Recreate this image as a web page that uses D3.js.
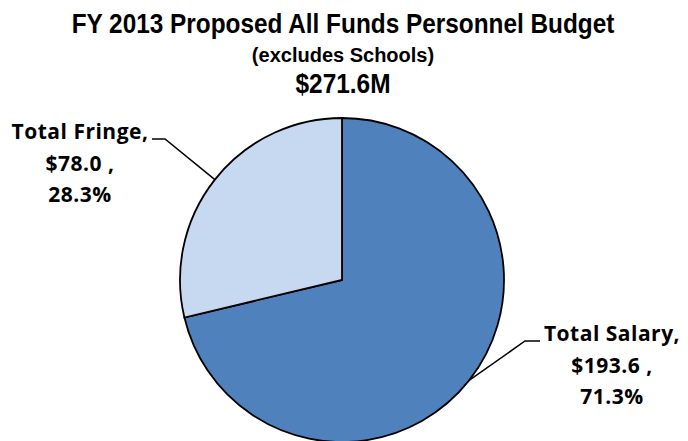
<!DOCTYPE html>
<html>
<head>
<meta charset="utf-8">
<script src="https://cdn.jsdelivr.net/npm/d3@7"></script>
<style>
  html, body { margin: 0; padding: 0; background: #fff; }
  svg { display: block; }
  .title { font-family: "Liberation Sans Narrow", "Arial Narrow", "Liberation Sans", Arial, sans-serif; font-weight: bold; fill: #000; }
  .lbl { font-family: "Open Sans", "Noto Sans", sans-serif; font-weight: bold; fill: #000; letter-spacing: 0.5px; }
</style>
</head>
<body>
<svg id="chart" width="688" height="441"></svg>
<script>
// Personnel budget split, $M
const categories = ["Total Salary", "Total Fringe"];
const amounts = [193.6, 78.0];
const percents = [71.3, 28.3];
const titleLines = ["FY 2013 Proposed All Funds Personnel Budget", "(excludes Schools)", "$271.6M"];
const colors = ["#4F81BD", "#C6D9F1"];

const W = 688, H = 441;
const cx = 342, cy = 280, R = 162;

const svg = d3.select("#chart");

// Titles, horizontally condensed to a fixed run width
const titleSpec = [
  { y: 33, size: 28, len: 543 },
  { y: 62, size: 20, len: 195 },
  { y: 93, size: 28, len: 95 }
];
svg.selectAll("text.title").data(titleLines).join("text")
  .attr("class", "title")
  .attr("x", 0)
  .attr("y", 0)
  .attr("font-size", (d, i) => titleSpec[i].size)
  .attr("text-anchor", "middle")
  .text(d => d)
  .each(function (d, i) {
    const w = this.getComputedTextLength();
    const k = Math.min(1, titleSpec[i].len / w);
    d3.select(this).attr("transform", `translate(343,${titleSpec[i].y}) scale(${k},1)`);
  });

// Pie: first slice starts at 12 o'clock, clockwise
const pie = d3.pie().sort(null).value(d => d.amount);
const data = categories.map((c, i) => ({ name: c, amount: amounts[i], pct: percents[i], color: colors[i] }));
const arcs = pie(data);
const arc = d3.arc().innerRadius(0).outerRadius(R);

const g = svg.append("g").attr("transform", `translate(${cx},${cy})`);
g.selectAll("path").data(arcs).join("path")
  .attr("d", arc)
  .attr("fill", d => d.data.color)
  .attr("stroke", "#000")
  .attr("stroke-width", 1.8)
  .attr("stroke-linejoin", "miter");

// Leader lines and labels
const fmt = d3.format(".1f");
const labelSpec = [
  { x: 612, y: 341, elbow: 525, end: 540 },  // salary, label to the right
  { x: 80, y: 139, elbow: 165, end: 152 }    // fringe, label to the left
];
arcs.forEach((a, i) => {
  const mid = (a.startAngle + a.endAngle) / 2;
  const px = cx + R * Math.sin(mid);
  const py = cy - R * Math.cos(mid);
  const s = labelSpec[i];
  svg.append("polyline")
    .attr("points", `${px},${py} ${s.elbow},${s.y} ${s.end},${s.y}`)
    .attr("fill", "none")
    .attr("stroke", "#000")
    .attr("stroke-width", 1.5);
  const lines = [a.data.name + ",", "$" + fmt(a.data.amount) + " ,", fmt(a.data.pct) + "%"];
  svg.append("g").selectAll("text").data(lines).join("text")
    .attr("class", "lbl")
    .attr("x", s.x)
    .attr("y", (d, j) => s.y + j * 31.5)
    .attr("font-size", 21)
    .attr("text-anchor", "middle")
    .text(d => d);
});
</script>
</body>
</html>
